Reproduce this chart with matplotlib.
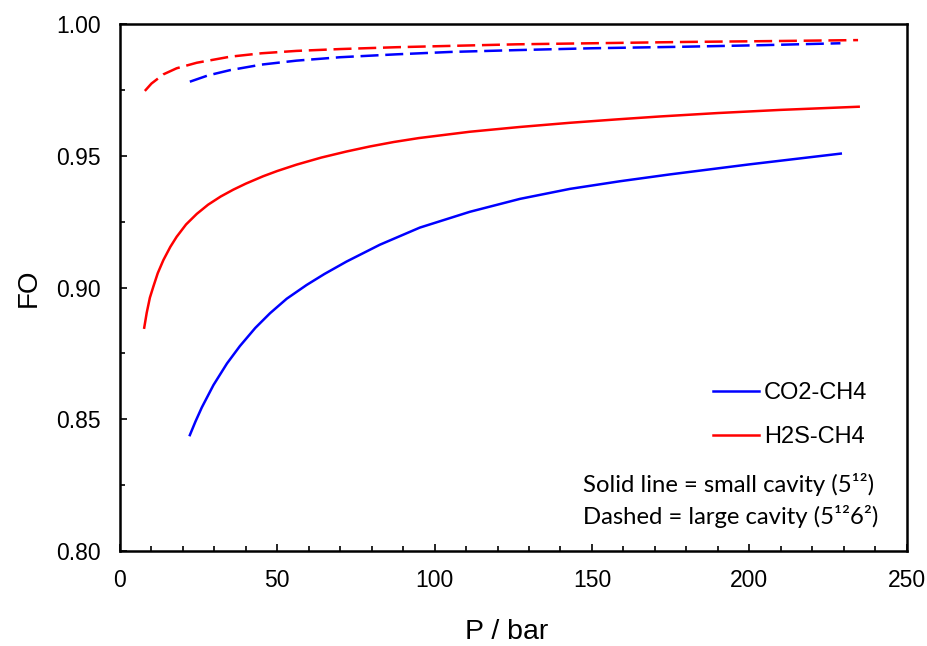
import matplotlib
matplotlib.use("Agg")
import matplotlib.pyplot as plt
from matplotlib.ticker import MultipleLocator, FormatStrFormatter

# ---- data ----
p_h2s_small = [7.7, 8.5, 9.5, 10.6, 12.0, 13.8, 16.0, 18.0, 21.0, 24.4, 28.0, 32.0, 36.0, 40.0,
               45.5, 50.0, 56.1, 64.0, 72.0, 79.4, 87.0, 95.0, 111.2, 127.0, 143.0, 158.0,
               171.6, 190.0, 210.0, 234.8]
fo_h2s_small = [0.8848, 0.8905, 0.8962, 0.9004, 0.9055, 0.9105, 0.9155, 0.9193, 0.9240, 0.9280,
                0.9315, 0.9346, 0.9372, 0.9395, 0.9423, 0.9443, 0.9467, 0.9494, 0.9517, 0.9536,
                0.9553, 0.9568, 0.9592, 0.9610, 0.9626, 0.9639, 0.9650, 0.9663, 0.9675, 0.9687]

p_co2_small = [22.2, 24.0, 26.0, 29.7, 34.0, 38.1, 43.0, 47.7, 53.0, 59.3, 65.0, 72.0, 82.6,
               95.3, 111.2, 127.1, 143.0, 158.9, 174.8, 200.0, 229.1]
fo_co2_small = [0.8440, 0.8492, 0.8545, 0.8630, 0.8712, 0.8778, 0.8847, 0.8903, 0.8958, 0.9010,
                0.9052, 0.9099, 0.9163, 0.9228, 0.9288, 0.9337, 0.9375, 0.9404, 0.9430, 0.9468,
                0.9509]

p_h2s_large = [7.9, 10.0, 13.8, 18.0, 24.4, 35.0, 45.0, 56.1, 70.0, 87.9, 105.0, 126.1, 150.0,
               180.0, 205.0, 234.6]
fo_h2s_large = [0.9747, 0.9775, 0.9810, 0.9833, 0.9854, 0.9877, 0.9890, 0.9899, 0.9906, 0.9913,
                0.9918, 0.9924, 0.9928, 0.9933, 0.9936, 0.9940]

p_co2_large = [22.2, 28.0, 35.0, 45.0, 56.1, 70.0, 87.9, 105.0, 126.1, 150.0, 180.0, 205.0, 229.0]
fo_co2_large = [0.9782, 0.9806, 0.9826, 0.9847, 0.9862, 0.9875, 0.9886, 0.9895, 0.9902, 0.9909,
                0.9915, 0.9921, 0.9928]

series_labels = ["CO2-CH4", "H2S-CH4"]
note_lines = ["Solid line = small cavity (5\u00b9\u00b2)",
              "Dashed = large cavity (5\u00b9\u00b26\u00b2)"]

plt.rcParams['font.family'] = ['Liberation Sans', 'DejaVu Sans']

fig = plt.figure(figsize=(9.27, 6.46), dpi=100)
ax = fig.add_axes([120/927, 1-551/646, (906.5-120)/927, (551-24.3)/646])

BLUE = '#0000ff'
RED = '#ff0000'
lw = 1.8

l1, = ax.plot(p_co2_small, fo_co2_small, color=BLUE, lw=lw, label=series_labels[0])
l2, = ax.plot(p_h2s_small, fo_h2s_small, color=RED, lw=lw, label=series_labels[1])
d1, = ax.plot(p_co2_large, fo_co2_large, color=BLUE, lw=lw)
d2, = ax.plot(p_h2s_large, fo_h2s_large, color=RED, lw=lw)
for d in (d1, d2):
    d.set_dashes((7.2, 2.7))

ax.set_xlim(0, 250)
ax.set_ylim(0.80, 1.00)
ax.xaxis.set_major_locator(MultipleLocator(50))
ax.xaxis.set_minor_locator(MultipleLocator(10))
ax.yaxis.set_major_locator(MultipleLocator(0.05))
ax.yaxis.set_minor_locator(MultipleLocator(0.025))
ax.yaxis.set_major_formatter(FormatStrFormatter('%.2f'))

ax.tick_params(which='major', direction='in', length=5, width=1.2, labelsize=16.5, pad=14)
ax.tick_params(which='minor', direction='in', length=3.5, width=1.2)
ax.tick_params(axis='x', which='major', pad=13)
for s in ax.spines.values():
    s.set_linewidth(1.8)

ax.set_xlabel('P / bar', fontsize=20.5)
ax.set_ylabel('FO', fontsize=20)
ax.xaxis.set_label_coords((506.5-120)/786.5, -0.130)
ax.yaxis.set_label_coords(-0.10, 0.5)

leg = ax.legend(handles=[l1, l2], loc='upper left', bbox_to_anchor=(713/927, 1-382/646),
                bbox_transform=fig.transFigure, frameon=False, fontsize=17,
                handlelength=1.95, handletextpad=0.22, labelspacing=0.95,
                borderpad=0, borderaxespad=0)

fig.text(583/927, 1-485/646, note_lines[0], fontsize=17.2, family=['Lato', 'DejaVu Sans'],
         va='center', ha='left')
fig.text(583/927, 1-517/646, note_lines[1], fontsize=17.2, family=['Lato', 'DejaVu Sans'],
         va='center', ha='left')

fig.savefig('out.png', dpi=100)
